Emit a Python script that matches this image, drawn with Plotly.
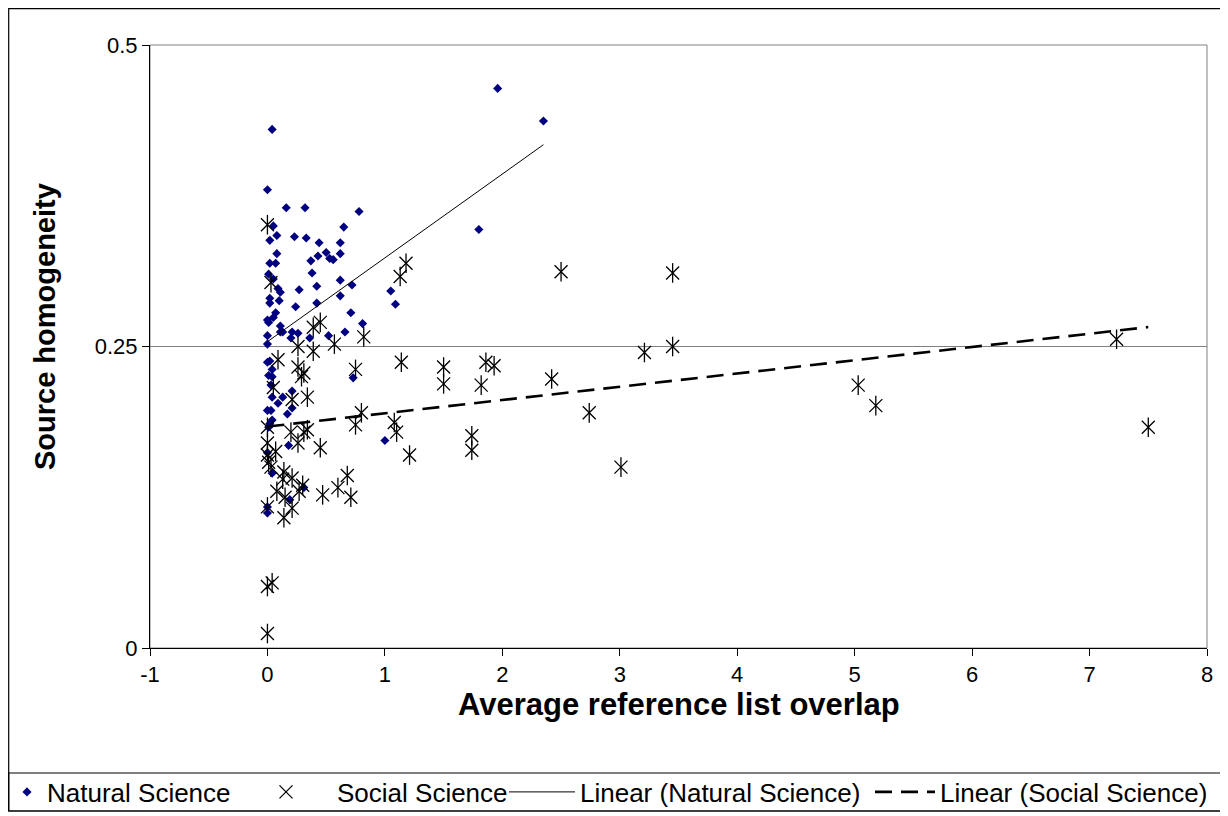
import plotly.graph_objects as go

# ---------------- data ----------------
nat_x = [0.04, 0.00, 0.16, 0.32, 0.78, 0.05, 0.08, 0.02, 0.23, 0.33, 0.44, 0.65, 0.62,
         0.08, 0.50, 0.62, 0.43, 0.53, 0.56, 0.37, 0.02, 0.07, 0.38, 0.01, 1.96, 2.35,
         1.80, 0.62, 0.72, 0.62, 1.05, 1.09, 0.71, 0.81, 0.05, 0.09, 0.11, 0.27, 0.42,
         0.02, 0.02, 0.10, 0.42, 0.24, 0.07, 0.05, 0.00, 0.01, 0.11, 0.11, 0.13, 0.21,
         0.26, 0.00, 0.20, 0.36, 0.52, 0.66, 0.00, 0.00, 0.02, 0.04, 0.01, 0.04, 0.03,
         0.04, 0.13, 0.09, 0.21, 0.21, 0.17, 0.00, 0.03, 0.04, 0.02, 0.73, 1.00, 0.18,
         0.00, 0.04, 0.31, 0.19, 0.00, 0.00, 0.01]
nat_y = [0.430, 0.380, 0.365, 0.365, 0.362, 0.350, 0.342, 0.338, 0.341, 0.340, 0.336,
         0.349, 0.336, 0.327, 0.328, 0.327, 0.325, 0.323, 0.322, 0.321, 0.319, 0.319,
         0.311, 0.310, 0.464, 0.437, 0.347, 0.305, 0.301, 0.292, 0.296, 0.285, 0.278,
         0.269, 0.306, 0.298, 0.295, 0.297, 0.300, 0.290, 0.286, 0.288, 0.286, 0.283,
         0.278, 0.274, 0.272, 0.270, 0.267, 0.262, 0.262, 0.262, 0.261, 0.259, 0.257,
         0.257, 0.259, 0.262, 0.252, 0.237, 0.238, 0.231, 0.226, 0.225, 0.218, 0.208,
         0.208, 0.203, 0.213, 0.199, 0.194, 0.197, 0.197, 0.189, 0.186, 0.224, 0.172,
         0.168, 0.162, 0.145, 0.133, 0.123, 0.117, 0.112, 0.183]

soc_x = [0.00, 0.03, 1.18, 1.13, 2.50, 3.45, 3.45, 3.21, 2.42, 2.74, 3.01, 5.03, 5.18,
         7.23, 7.50, 1.14, 1.50, 1.50, 1.86, 1.93, 1.82, 1.74, 1.74, 1.21, 1.08, 1.10,
         0.82, 0.57, 0.75, 0.80, 0.75, 0.68, 0.60, 0.71, 0.39, 0.45, 0.26, 0.39, 0.09,
         0.26, 0.31, 0.29, 0.05, 0.21, 0.34, 0.00, 0.20, 0.31, 0.34, 0.00, 0.07, 0.26,
         0.45, 0.00, 0.01, 0.03, 0.14, 0.21, 0.13, 0.30, 0.08, 0.27, 0.15, 0.21, 0.00,
         0.14, 0.47, 0.00, 0.04, 0.00]
soc_y = [0.351, 0.303, 0.319, 0.308, 0.312, 0.311, 0.250, 0.245, 0.223, 0.195, 0.150,
         0.218, 0.201, 0.256, 0.183, 0.237, 0.233, 0.219, 0.237, 0.234, 0.218, 0.176,
         0.164, 0.160, 0.187, 0.179, 0.258, 0.252, 0.231, 0.195, 0.185, 0.143, 0.133,
         0.125, 0.266, 0.270, 0.250, 0.246, 0.239, 0.233, 0.228, 0.225, 0.216, 0.206,
         0.208, 0.183, 0.179, 0.179, 0.181, 0.170, 0.163, 0.170, 0.166, 0.160, 0.154,
         0.150, 0.146, 0.141, 0.140, 0.135, 0.130, 0.130, 0.125, 0.116, 0.117, 0.108,
         0.127, 0.051, 0.054, 0.012]

# linear trend coefficients (slope, intercept)
nat_slope, nat_intercept = 0.0695, 0.254
soc_slope, soc_intercept = 0.0110, 0.1836

x_tick_vals = [-1, 0, 1, 2, 3, 4, 5, 6, 7, 8]
x_tick_text = ["-1", "0", "1", "2", "3", "4", "5", "6", "7", "8"]
y_tick_vals = [0, 0.25, 0.5]
y_tick_text = ["0", "0.25", "0.5"]

x_title = "Average reference list overlap"
y_title = "Source homogeneity"

# ---------------- figure ----------------
FONT = "Liberation Sans, Arial, sans-serif"
OFF = 8                      # page offset of the figure (body margin)
W, H = 1214, 804             # figure size
L, T = 150 - OFF, 45 - OFF   # plot area left/top in figure px
R = W - (1207 - OFF)
B = H - (648 - OFF)
pw, ph = W - L - R, H - T - B


def px_x(p):                 # page px -> paper x
    return (p - OFF - L) / pw


def px_y(p):                 # page px -> paper y
    return (H - B - (p - OFF)) / ph


nat_tx = [min(nat_x), max(nat_x)]
nat_ty = [nat_intercept + nat_slope * v for v in nat_tx]
soc_tx = [min(soc_x), max(soc_x)]
soc_ty = [soc_intercept + soc_slope * v for v in soc_tx]

fig = go.Figure()
fig.add_trace(go.Scatter(
    x=nat_x, y=nat_y, mode="markers", name="Natural Science", legend="legend",
    marker=dict(symbol="diamond", size=7, color="#000080", line=dict(width=0))))
fig.add_trace(go.Scatter(
    x=soc_x, y=soc_y, mode="markers", name="Social Science", legend="legend2",
    marker=dict(symbol="x-thin-open", size=13, color="black", line=dict(width=1.3, color="black"))))
fig.add_trace(go.Scatter(
    x=soc_x, y=soc_y, mode="markers", name="Social Science", showlegend=False,
    marker=dict(symbol="line-ns-open", size=14, color="black", line=dict(width=1.3, color="black"))))
fig.add_trace(go.Scatter(
    x=nat_tx, y=nat_ty, mode="lines", name="Linear (Natural Science)", legend="legend3",
    line=dict(color="black", width=1)))
fig.add_trace(go.Scatter(
    x=soc_tx, y=soc_ty, mode="lines", name="Linear (Social Science)", legend="legend4",
    line=dict(color="black", width=2.6, dash="17px,9px")))

leg_common = dict(orientation="h", yanchor="middle", xanchor="left",
                  font=dict(size=26, family=FONT), bgcolor="rgba(0,0,0,0)", borderwidth=0)
LEG_Y = px_y(792)

fig.update_layout(
    width=W, height=H,
    margin=dict(l=L, r=R, t=T, b=B, autoexpand=False),
    paper_bgcolor="white", plot_bgcolor="white",
    font=dict(family=FONT, color="black"),
    showlegend=True,
    legend=dict(x=px_x(7), y=LEG_Y, **leg_common),
    legend2=dict(x=px_x(235), y=LEG_Y, itemwidth=92, **leg_common),
    legend3=dict(x=px_x(504), y=LEG_Y, itemwidth=66, **leg_common),
    legend4=dict(x=px_x(870), y=LEG_Y, itemwidth=60, **leg_common),
    xaxis=dict(range=[-1, 8], tickvals=x_tick_vals, ticktext=x_tick_text,
               showgrid=False, zeroline=False, showline=True, linecolor="black", linewidth=1,
               ticks="outside", ticklen=7, tickcolor="black", tickfont=dict(size=22)),
    yaxis=dict(range=[0, 0.5], tickvals=y_tick_vals, ticktext=y_tick_text,
               showgrid=True, gridcolor="#808080", gridwidth=1, zeroline=False,
               showline=True, linecolor="black", linewidth=1,
               ticks="outside", ticklen=7, tickcolor="black", tickfont=dict(size=22)),
    annotations=[
        dict(text="<b>" + x_title + "</b>", xref="paper", yref="paper", x=0.5, y=px_y(705),
             xanchor="center", yanchor="middle", showarrow=False, font=dict(size=31)),
        dict(text="<b>" + y_title + "</b>", xref="paper", yref="paper", x=px_x(45),
             y=px_y(327), xanchor="center", yanchor="middle", textangle=-90,
             showarrow=False, font=dict(size=29)),
    ],
    shapes=[
        # plot area border
        dict(type="rect", xref="paper", yref="paper", x0=0, x1=1, y0=0, y1=1,
             line=dict(color="#808080", width=1), layer="below"),
        # outer chart border
        dict(type="rect", xref="paper", yref="paper", x0=px_x(8.7), x1=px_x(1221),
             y0=px_y(811), y1=px_y(8.7), line=dict(color="black", width=1.2), layer="below"),
        # legend box
        dict(type="rect", xref="paper", yref="paper", x0=px_x(8.7), x1=px_x(1221),
             y0=px_y(811), y1=px_y(773), line=dict(color="black", width=1.2), layer="below"),
    ],
)

fig.write_html("out.html")
